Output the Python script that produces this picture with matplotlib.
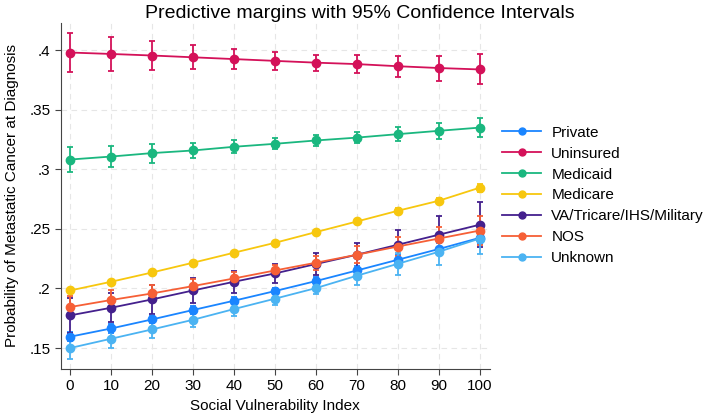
import matplotlib
matplotlib.use("Agg")
import matplotlib.pyplot as plt
from matplotlib.lines import Line2D
from matplotlib.ticker import FuncFormatter

plt.rcParams['font.family'] = ['Liberation Sans', 'DejaVu Sans']

# data
svi = [0, 10, 20, 30, 40, 50, 60, 70, 80, 90, 100]

groups = ["Private", "Uninsured", "Medicaid", "Medicare",
          "VA/Tricare/IHS/Military", "NOS", "Unknown"]
colors = ["#1a85ff", "#d41159", "#1ab77f", "#f7c70e",
          "#44208d", "#f65f36", "#4bb3f2"]

private = [0.1595, 0.1664, 0.174, 0.1819, 0.1897, 0.1978, 0.2062, 0.2151, 0.2241, 0.2331, 0.2425]
private_ci = [0.004, 0.0036, 0.0032, 0.003, 0.0028, 0.0028, 0.003, 0.0035, 0.004, 0.0048, 0.0056]

uninsured = [0.398, 0.3968, 0.3955, 0.394, 0.3925, 0.391, 0.3895, 0.3883, 0.3865, 0.385, 0.3838]
uninsured_ci = [0.016, 0.014, 0.012, 0.010, 0.0085, 0.0075, 0.0067, 0.0078, 0.009, 0.0105, 0.0126]

medicaid = [0.3082, 0.3107, 0.3136, 0.3158, 0.3189, 0.3214, 0.3242, 0.3266, 0.3295, 0.3323, 0.335]
medicaid_ci = [0.0106, 0.009, 0.008, 0.0065, 0.0055, 0.0047, 0.0045, 0.0048, 0.0057, 0.0068, 0.008]

medicare = [0.1983, 0.2056, 0.2134, 0.2216, 0.23, 0.2383, 0.2473, 0.2562, 0.2652, 0.2736, 0.2846]
medicare_ci = [0.0022, 0.0019, 0.0017, 0.0016, 0.0015, 0.0015, 0.0016, 0.0018, 0.0022, 0.0027, 0.0033]

va = [0.1774, 0.1838, 0.1908, 0.1983, 0.2056, 0.2126, 0.2205, 0.2283, 0.2367, 0.2451, 0.2535]
va_ci = [0.015, 0.012, 0.012, 0.0105, 0.009, 0.008, 0.009, 0.010, 0.012, 0.0155, 0.019]

nos = [0.1844, 0.1903, 0.1958, 0.202, 0.2084, 0.2151, 0.2216, 0.2283, 0.2352, 0.2419, 0.2486]
nos_ci = [0.009, 0.008, 0.007, 0.006, 0.005, 0.005, 0.006, 0.007, 0.008, 0.010, 0.012]

unknown = [0.15, 0.1578, 0.1656, 0.1737, 0.1827, 0.1914, 0.2003, 0.2107, 0.2207, 0.2308, 0.2419]
unknown_ci = [0.009, 0.008, 0.007, 0.006, 0.0055, 0.005, 0.005, 0.0076, 0.009, 0.011, 0.013]

series = [(private, private_ci), (uninsured, uninsured_ci), (medicaid, medicaid_ci),
          (medicare, medicare_ci), (va, va_ci), (nos, nos_ci), (unknown, unknown_ci)]

yticks = [0.15, 0.2, 0.25, 0.3, 0.35, 0.4]


def main():
    fig = plt.figure(figsize=(7.09, 4.2), dpi=100)
    ax = fig.add_axes([0.0856, 0.122, 0.605, 0.823])

    for (vals, ci), col in zip(series, colors):
        ax.errorbar(svi, vals, yerr=ci, color=col, ecolor=col, elinewidth=1.3,
                    capsize=2.3, capthick=1.3, marker='o', markersize=6,
                    linewidth=1.3, zorder=3)

    ax.set_xlim(-2.3, 102.4)
    ax.set_ylim(0.1326, 0.4227)
    ax.set_xticks(svi)
    ax.set_yticks(yticks)
    ax.yaxis.set_major_formatter(FuncFormatter(lambda v, p: f"{v:g}".lstrip('0')))
    ax.tick_params(labelsize=11, length=4, color='#444444')
    ax.grid(True, linestyle=(0, (5, 4)), color='#e6e6e6', linewidth=0.8)
    ax.set_axisbelow(True)
    for s in ['top', 'right']:
        ax.spines[s].set_visible(False)
    for s in ['left', 'bottom']:
        ax.spines[s].set_color('#444444')

    ax.set_xlabel("Social Vulnerability Index", fontsize=11, labelpad=4)
    ax.set_ylabel("Probability of Metastatic Cancer at Diagnosis", fontsize=11, labelpad=7)
    fig.suptitle("Predictive margins with 95% Confidence Intervals", fontsize=14,
                 x=0.508, y=0.988)

    handles = [Line2D([0], [0], color=c, marker='o', markersize=5, linewidth=1.3)
               for c in colors]
    fig.legend(handles, groups, loc='upper left', bbox_to_anchor=(0.70, 0.715),
               frameon=False, fontsize=11, handlelength=2.5, labelspacing=0.45,
               handletextpad=0.7, borderaxespad=0)

    fig.savefig("out.png", dpi=100)


if __name__ == "__main__":
    main()
